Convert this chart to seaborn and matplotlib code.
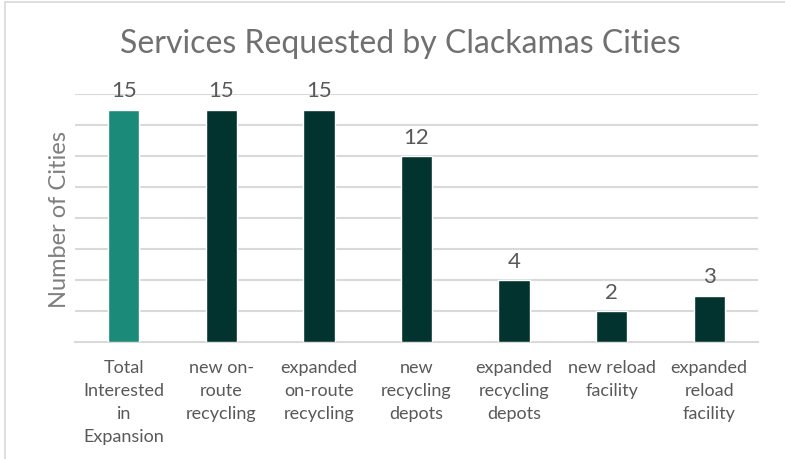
import matplotlib
matplotlib.use("Agg")
import matplotlib.pyplot as plt
import seaborn as sns
import pandas as pd
from matplotlib.patches import Rectangle

categories = ["Total\nInterested\nin\nExpansion", "new on-\nroute\nrecycling",
              "expanded\non-route\nrecycling", "new\nrecycling\ndepots",
              "expanded\nrecycling\ndepots", "new reload\nfacility",
              "expanded\nreload\nfacility"]
values = [15, 15, 15, 12, 4, 2, 3]
colors = ["#1b8a78", "#02332e", "#02332e", "#02332e", "#02332e", "#02332e", "#02332e"]

sns.set_theme(style="white")
plt.rcParams["font.family"] = ["Lato", "DejaVu Sans"]

df = pd.DataFrame({"cat": categories, "val": values})

fig = plt.figure(figsize=(7.85, 4.6), dpi=100)
ax = fig.add_axes([75/785, 1-343/460, 683/785, 248/460])
sns.barplot(data=df, x="cat", y="val", hue="cat", palette=colors, legend=False,
            width=0.32, ax=ax, saturation=1, zorder=3)

ax.set_ylim(0, 16)
ax.set_yticks(range(2, 17, 2))
ax.set_yticklabels([])
ax.tick_params(axis="y", length=0)
ax.tick_params(axis="x", length=0, pad=12, labelsize=13, labelcolor="#595959")
for t in ax.get_xticklabels():
    t.set_linespacing(1.55)
ax.grid(axis="y", color="#d9d9d9", linewidth=1.5, zorder=0)
for s in ["top", "right", "left"]:
    ax.spines[s].set_visible(False)
ax.spines["bottom"].set_color("#d9d9d9")
ax.spines["bottom"].set_linewidth(1.5)
ax.set_xlabel("")
ax.set_ylabel("Number of Cities", fontsize=17, color="#7f7f7f", labelpad=0)

for i, v in enumerate(values):
    ax.text(i, v + 0.6, str(v), ha="center", va="bottom", fontsize=16, color="#595959")

fig.text(400/785, 1-44/460, "Services Requested by Clackamas Cities", ha="center",
         va="center", fontsize=23, color="#707070")

fig.patches.append(Rectangle((5/785, -0.1), 1.2, 1.1 - 3/460, transform=fig.transFigure,
                             fill=False, edgecolor="#d9d9d9", linewidth=1.2))

fig.savefig("out.png", dpi=100)
